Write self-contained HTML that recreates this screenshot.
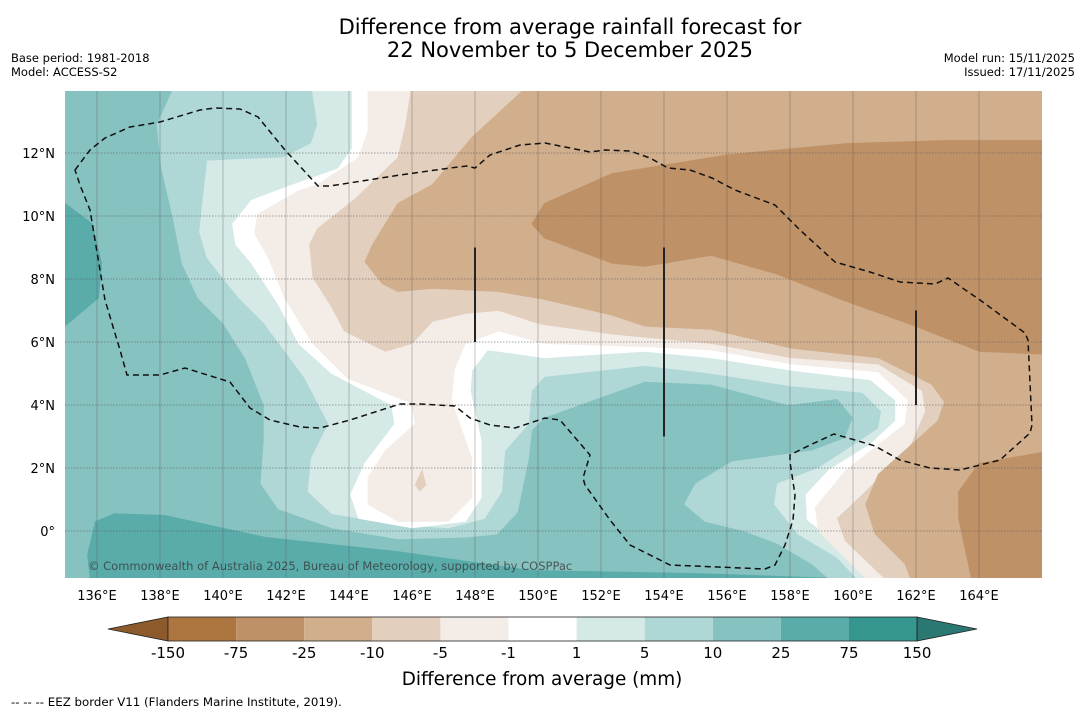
<!DOCTYPE html>
<html><head><meta charset="utf-8"><style>
body{margin:0;background:#fff;width:1085px;height:713px;overflow:hidden;font-family:"DejaVu Sans","Liberation Sans",sans-serif;}
svg text{font-family:"DejaVu Sans","Liberation Sans",sans-serif;}
</style></head><body>
<svg id="chart" width="1085" height="713" viewBox="0 0 1085 713">
<defs><clipPath id="mapclip"><rect x="65" y="91" width="977" height="487"/></clipPath></defs>
<text x="570" y="34" text-anchor="middle" font-size="21">Difference from average rainfall forecast for</text>
<text x="570" y="57" text-anchor="middle" font-size="21">22 November to 5 December 2025</text>
<text x="11" y="62" font-size="11.5">Base period: 1981-2018</text>
<text x="11" y="76" font-size="11.5">Model: ACCESS-S2</text>
<text x="1075" y="62" font-size="11.5" text-anchor="end">Model run: 15/11/2025</text>
<text x="1075" y="76" font-size="11.5" text-anchor="end">Issued: 17/11/2025</text>
<g id="map" clip-path="url(#mapclip)"></g>
<g id="axes"></g>
<g id="cbar"></g>
<text x="542" y="685" text-anchor="middle" font-size="18.4">Difference from average (mm)</text>
<text x="11" y="706" font-size="11.8">--  --  -- EEZ border V11 (Flanders Marine Institute, 2019).</text>
</svg>
<script>
const lonTicks=[136,138,140,142,144,146,148,150,152,154,156,158,160,162,164];
const latTicks=[0,2,4,6,8,10,12];
const cbarLabels=["-150","-75","-25","-10","-5","-1","1","5","10","25","75","150"];
const cbarColors=["#ad7641","#bf9166","#d1ae8c","#e2cfbd","#f3ece7","#ffffff","#d5e9e7","#aed7d5","#86c2c0","#5aacaa","#35968f"];
const baseColor="#86c2c0";
const layerColors=["#5aacaa","#5aacaa","#aed7d5","#d5e9e7","#ffffff","#f3ece7","#e2cfbd","#d1ae8c","#bf9166","#bf9166","#e2cfbd"];
const layerNames=["teal-25-75-west","teal-25-75-south","fill-5-10","fill-1-5","fill-neutral","fill-minus1-5","fill-minus5-10","fill-minus10-25","fill-minus25-75-north","fill-minus25-75-southeast","fill-minus5-10-drop"];
const tealWest=[[134.8,10.55],[135.85,9.75],[136.15,8.5],[136.05,7.4],[134.8,6.35]];
const tealSouth=[[135.95,0.3],[136.55,0.55],[138.15,0.5],[141.35,-0.2],[145.55,-0.65],[149.8,-1.25],[155.15,-1.35],[159.45,-1.5],[159.45,-1.7],[135.8,-1.7],[135.7,-0.75]];
const contA=[[138.5,14.2],[137.9,12.9],[138.05,11.5],[138.4,10.0],[138.7,8.5],[139.2,7.4],[140.0,6.6],[140.7,5.5],[141.3,4.0],[141.3,2.9],[141.2,1.5],[141.75,0.7],[143.45,0.1],[145.55,-0.25],[147.7,-0.2],[148.7,-0.1],[149.35,0.6],[149.7,2.3],[149.8,3.2],[150.2,3.6],[151.3,4.0],[153.4,4.75],[155.5,4.65],[157.95,4.0],[159.5,4.2],[160.0,3.6],[159.75,2.95],[158.7,2.55],[156.15,2.2],[155.0,1.5],[154.65,0.85],[155.3,0.3],[156.55,0],[157.6,-0.4],[158.7,-1.05],[159.45,-1.7],[166.3,-1.7],[166.3,14.2]];
const contB=[[142.8,14.2],[143.0,12.9],[142.8,12.3],[141.9,11.85],[140.55,11.8],[139.5,11.75],[139.45,11.3],[139.25,9.5],[139.5,8.65],[140.5,7.4],[141.3,6.6],[142.6,4.85],[143.35,3.4],[142.8,2.3],[142.7,1.25],[143.45,0.55],[145.55,0.2],[147.15,0.1],[148.3,0.4],[148.85,1.25],[148.95,2.55],[149.7,3.4],[149.8,4.45],[150.2,4.9],[153.4,5.25],[155.5,5.0],[158.05,4.6],[160.3,4.4],[160.9,3.8],[160.8,3.25],[159.75,2.55],[158.9,2.0],[157.6,1.5],[157.5,0.85],[158.25,-0.1],[159.5,-0.85],[160.3,-1.7],[166.3,-1.7],[166.3,14.2]];
const contC=[[144.1,14.2],[144.1,12.15],[143.65,11.5],[141.95,10.9],[140.9,10.5],[140.3,9.75],[140.4,9.1],[140.9,8.5],[141.75,7.2],[142.4,5.95],[143.45,5.0],[145.35,4.0],[145.45,3.4],[144.5,2.15],[144.05,1.15],[144.3,0.4],[146.0,0.1],[147.7,0.3],[148.2,1.05],[148.2,2.85],[147.85,4.45],[147.9,5.1],[148.4,5.75],[150.2,5.5],[153.4,5.7],[155.5,5.5],[158.05,5.1],[160.55,4.8],[161.35,4.15],[161.35,3.5],[160.55,2.75],[159.25,1.95],[158.5,1.15],[158.55,0.35],[159.6,-0.45],[160.55,-1.7],[166.3,-1.7],[166.3,14.2]];
const contD=[[144.6,14.2],[144.6,12.7],[144.3,11.85],[143.0,11.0],[142.4,10.8],[141.1,10.05],[141.0,9.45],[141.45,8.65],[141.95,7.4],[142.85,5.95],[143.95,4.85],[146.0,4.05],[146.1,3.4],[145.15,2.55],[144.6,1.7],[144.6,0.85],[145.55,0.3],[147.15,0.3],[147.9,1.05],[147.9,2.3],[147.25,4.15],[147.35,5.15],[147.7,5.95],[148.75,6.35],[150.2,5.95],[153.4,5.85],[155.5,5.75],[158.05,5.3],[160.8,5.05],[161.75,4.15],[161.65,3.4],[159.75,1.9],[158.8,0.75],[158.9,0],[159.75,-0.85],[160.6,-1.7],[166.3,-1.7],[166.3,14.2]];
const contE=[[146.0,14.2],[145.8,12.9],[145.55,11.85],[144.2,10.55],[143.0,9.6],[142.75,9.1],[142.85,8.05],[143.45,7.1],[143.85,6.35],[145.15,5.7],[146.0,5.95],[146.65,6.65],[147.7,6.9],[148.75,7.0],[149.8,6.65],[150.2,6.55],[152.35,6.25],[155.5,5.95],[158.05,5.5],[160.8,5.3],[162.2,4.45],[162.3,3.8],[161.85,2.75],[160.4,1.25],[159.5,0.4],[159.75,-0.3],[161.2,-1.7],[166.3,-1.7],[166.3,14.2]];
const contF=[[149.75,14.2],[147.9,12.5],[146.65,11.0],[145.55,10.4],[144.75,9.1],[144.5,8.55],[145.05,7.85],[145.55,7.6],[146.65,7.7],[148.75,7.6],[150.2,7.35],[152.35,6.85],[153.4,6.5],[155.5,6.4],[158.05,5.8],[160.8,5.5],[162.5,4.65],[162.9,4.1],[162.7,3.5],[160.8,1.8],[160.4,0.85],[160.7,-0.1],[161.65,-1.05],[161.9,-1.7],[166.3,-1.7],[166.3,14.2]];
const contG=[[149.8,9.75],[150.2,10.4],[152.35,11.35],[156.05,11.95],[159.75,12.3],[162.9,12.4],[166.3,12.4],[166.3,5.6],[164.0,5.7],[161.85,6.55],[159.75,7.3],[157.6,8.15],[155.5,8.75],[153.4,8.4],[152.35,8.5],[150.2,9.3]];
const contG2=[[163.35,1.25],[164.0,2.15],[166.3,2.55],[166.3,-1.7],[163.8,-1.7],[163.35,0.4]];
const drop=[[146.32,1.94],[146.44,1.46],[146.25,1.27],[146.1,1.46]];
const layers=[tealWest,tealSouth,contA,contB,contC,contD,contE,contF,contG,contG2,drop];

const NS="http://www.w3.org/2000/svg";
function xs(lon){return 65.5+(lon-135)*31.5;}
function ys(lat){return 531-lat*31.5;}
function mk(tag,attrs,parent){const e=document.createElementNS(NS,tag);for(const k in attrs)e.setAttribute(k,attrs[k]);parent.appendChild(e);return e;}
const map=document.getElementById('map');
const bg=mk('rect',{x:65,y:91,width:977,height:487,fill:baseColor},map);


layers.forEach((poly,i)=>{
  const p=mk('polygon',{points:poly.map(q=>xs(q[0]).toFixed(1)+','+ys(q[1]).toFixed(1)).join(' '),fill:layerColors[i],stroke:layerColors[i],'stroke-width':0.6,'stroke-linejoin':'round'},map);
  
  
});
lonTicks.forEach(l=>{
  const g=mk('line',{x1:xs(l),x2:xs(l),y1:91,y2:578,stroke:'#555','stroke-width':0.7,'stroke-opacity':0.5},map);
  
  
});
latTicks.forEach(l=>{
  const g=mk('line',{x1:65,x2:1042,y1:ys(l),y2:ys(l),stroke:'#555','stroke-width':0.8,'stroke-dasharray':'1.5,1.5','stroke-opacity':0.7},map);
  
  
});
const eez=mk('path',{d:"M75,170 L90,150 105,138 130,127 160,122 200,110 215,108 240,109 258,117 285,150 318,186 330,186 400,175 450,168 467,166 475,168 490,155 520,145 545,143 565,147 590,152 605,150 630,151 650,158 668,168 690,170 712,178 735,190 775,205 800,230 835,262 870,272 900,282 935,284 948,278 980,300 1025,333 1028,340 1032,425 1030,433 1000,460 960,470 930,468 900,460 875,446 855,440 834,434 810,445 790,455 790,462 795,495 793,520 785,545 775,565 765,569 670,565 630,545 610,520 585,485 583,478 590,455 560,420 545,418 515,428 490,425 470,418 455,406 420,404 400,404 375,412 350,420 320,428 300,427 270,420 250,408 230,382 185,368 160,375 127,375 120,350 105,300 95,240 90,210 80,185 Z",fill:'none',stroke:'#111','stroke-width':1.5,'stroke-dasharray':'6,4'},map);


[[148,6,9],[154,3,9],[162,4,7]].forEach(v=>{
  const l=mk('line',{x1:xs(v[0]),x2:xs(v[0]),y1:ys(v[2]),y2:ys(v[1]),stroke:'#222','stroke-width':2},map);
  
  
});
const cp=mk('text',{x:88,y:570,'font-size':11.5,fill:'#333','fill-opacity':0.75},map);
cp.textContent="© Commonwealth of Australia 2025, Bureau of Meteorology, supported by COSPPac";


const ax=document.getElementById('axes');
lonTicks.forEach(l=>{
  const t=mk('text',{x:xs(l),y:600,'text-anchor':'middle','font-size':13},ax);
  t.textContent=l+"°E";
  
  
});
latTicks.forEach(l=>{
  const t=mk('text',{x:55,y:ys(l)+5,'text-anchor':'end','font-size':13},ax);
  t.textContent=l===0?"0°":l+"°N";
  
  
});
const cb=document.getElementById('cbar');
const cx0=168,cw=68.1,cy=617,ch=24;
const lt=mk('polygon',{points:`108,${cy+ch/2} ${cx0},${cy} ${cx0},${cy+ch}`,fill:'#8c5a2b',stroke:'#222','stroke-width':0.8},cb);


cbarColors.forEach((c,i)=>{
  const r=mk('rect',{x:cx0+i*cw,y:cy,width:cw,height:ch,fill:c},cb);
  
  
});
const xe=cx0+cbarColors.length*cw;
const rt=mk('polygon',{points:`${xe},${cy} 977,${cy+ch/2} ${xe},${cy+ch}`,fill:'#2b7772',stroke:'#222','stroke-width':0.8},cb);


const fr=mk('rect',{x:cx0,y:cy,width:xe-cx0,height:ch,fill:'none',stroke:'#222','stroke-width':0.8},cb);


cbarLabels.forEach((s,i)=>{
  const t=mk('text',{x:cx0+i*cw,y:658,'text-anchor':'middle','font-size':15},cb);
  t.textContent=s;
  
  
});
</script>
</body></html>
